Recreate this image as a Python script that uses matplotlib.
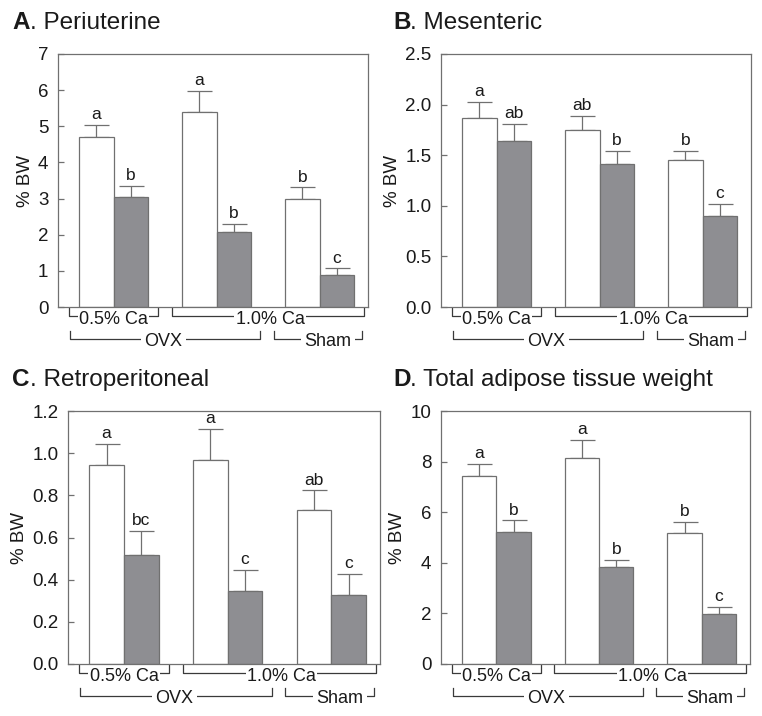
import matplotlib
matplotlib.use("Agg")
import matplotlib.pyplot as plt
import numpy as np
from matplotlib.transforms import blended_transform_factory

plt.rcParams['font.family'] = ['Liberation Sans', 'DejaVu Sans']

# ---- data ----
groups = ["0.5% Ca OVX", "1.0% Ca OVX", "1.0% Ca Sham"]
panel_titles = ["Periuterine", "Mesenteric", "Retroperitoneal", "Total adipose tissue weight"]
panel_letters = ["A", "B", "C", "D"]

# white bars / gray bars (means) and SEM (upper error)
A_white = [4.70, 5.39, 2.98]
A_white_err = [0.33, 0.60, 0.33]
A_gray = [3.04, 2.07, 0.88]
A_gray_err = [0.31, 0.22, 0.19]
A_white_sig = ["a", "a", "b"]
A_gray_sig = ["b", "b", "c"]

B_white = [1.865, 1.75, 1.45]
B_white_err = [0.165, 0.14, 0.095]
B_gray = [1.64, 1.41, 0.90]
B_gray_err = [0.17, 0.13, 0.12]
B_white_sig = ["a", "ab", "b"]
B_gray_sig = ["ab", "b", "c"]

C_white = [0.943, 0.967, 0.730]
C_white_err = [0.100, 0.149, 0.093]
C_gray = [0.516, 0.344, 0.328]
C_gray_err = [0.116, 0.101, 0.101]
C_white_sig = ["a", "a", "ab"]
C_gray_sig = ["bc", "c", "c"]

D_white = [7.44, 8.15, 5.18]
D_white_err = [0.47, 0.70, 0.43]
D_gray = [5.22, 3.83, 1.97]
D_gray_err = [0.46, 0.27, 0.28]
D_white_sig = ["a", "a", "b"]
D_gray_sig = ["b", "b", "c"]

y_ticks = [
    [0, 1, 2, 3, 4, 5, 6, 7],
    [0.0, 0.5, 1.0, 1.5, 2.0, 2.5],
    [0.0, 0.2, 0.4, 0.6, 0.8, 1.0, 1.2],
    [0, 2, 4, 6, 8, 10],
]
y_tick_labels = [
    ["0", "1", "2", "3", "4", "5", "6", "7"],
    ["0.0", "0.5", "1.0", "1.5", "2.0", "2.5"],
    ["0.0", "0.2", "0.4", "0.6", "0.8", "1.0", "1.2"],
    ["0", "2", "4", "6", "8", "10"],
]

# bracket labels: (label, first group, last group)
row1_brackets = [("0.5% Ca", 0, 0), ("1.0% Ca", 1, 2)]
row2_brackets = [("OVX", 0, 1), ("Sham", 2, 2)]

panels = [
    (A_white, A_white_err, A_gray, A_gray_err, A_white_sig, A_gray_sig),
    (B_white, B_white_err, B_gray, B_gray_err, B_white_sig, B_gray_sig),
    (C_white, C_white_err, C_gray, C_gray_err, C_white_sig, C_gray_sig),
    (D_white, D_white_err, D_gray, D_gray_err, D_white_sig, D_gray_sig),
]

# ---- layout ----
W, H = 762, 716
fig = plt.figure(figsize=(W / 100, H / 100), dpi=100)

axes_px = [  # left, top, width, height in px
    (58, 54, 310, 253),
    (441, 54, 310, 253),
    (68, 411, 312, 253),
    (441, 411, 309, 253),
]
title_px = [(12, 29), (393, 29), (12, 386), (393, 386)]
ylabel_x = [-0.078, -0.128, -0.128, -0.113]

bar_w = 0.335
edge_col = "#707070"
gray_fill = "#8e8e92"
line_col = "#3a3a3a"
text_col = "#1a1a1a"

x = np.arange(len(groups))
renderer = fig.canvas.get_renderer()

for i, (wv, we, gv, ge, ws, gs) in enumerate(panels):
    l, t, w, h = axes_px[i]
    ax = fig.add_axes([l / W, 1 - (t + h) / H, w / W, h / H])
    xw = x - bar_w / 2
    xg = x + bar_w / 2
    ax.bar(xw, wv, width=bar_w, color="white", edgecolor=edge_col, linewidth=0.9, zorder=2)
    ax.bar(xg, gv, width=bar_w, color=gray_fill, edgecolor=edge_col, linewidth=0.9, zorder=2)
    ax.errorbar(xw, wv, yerr=[np.zeros(3), we], fmt="none", ecolor=edge_col,
                elinewidth=0.9, capsize=9, capthick=0.9, zorder=1)
    ax.errorbar(xg, gv, yerr=[np.zeros(3), ge], fmt="none", ecolor=edge_col,
                elinewidth=0.9, capsize=9, capthick=0.9, zorder=1)
    for xs, vals, errs, sigs in ((xw, wv, we, ws), (xg, gv, ge, gs)):
        for xx, v, e, s in zip(xs, vals, errs, sigs):
            ax.annotate(s, (xx, v + e), xytext=(0, 2), textcoords="offset points",
                        ha="center", va="bottom", fontsize=12.5, color=text_col)

    ax.set_xlim(-0.54, 2.47)
    ax.set_ylim(y_ticks[i][0], y_ticks[i][-1])
    ax.set_yticks(y_ticks[i])
    ax.set_yticklabels(y_tick_labels[i])
    ax.set_xticks([])
    ax.tick_params(axis="y", direction="in", length=4, width=0.9, color=edge_col,
                   pad=7, labelsize=13.5, labelcolor=text_col)
    for sp in ax.spines.values():
        sp.set_color(edge_col)
        sp.set_linewidth(0.9)
    ax.set_ylabel("% BW", fontsize=13.5, color=text_col)
    ax.yaxis.set_label_coords(ylabel_x[i], 0.5)

    trans = blended_transform_factory(ax.transData, ax.transAxes)
    # row 1 brackets
    for lab, g0, g1 in row1_brackets:
        x0 = g0 - 0.435
        x1 = g1 + 0.435
        y_line, y_top, y_txt = -0.036, -0.004, -0.050
        ax.plot([x0, x0, x1, x1], [y_top, y_line, y_line, y_top], transform=trans,
                color=line_col, lw=0.9, clip_on=False)
        xc = (x0 + x1) / 2 if g0 == g1 else 1.52
        ax.text(xc, y_txt, lab, transform=trans, ha="center", va="center",
                fontsize=13, color=text_col,
                bbox=dict(facecolor="white", edgecolor="none", pad=1.0))
    # row 2 brackets
    for lab, g0, g1 in row2_brackets:
        x0 = g0 - 0.425 if g0 == 0 else g0 - 0.445
        x1 = g1 + 0.425 if g1 == 1 else g1 + 0.415
        y_line, y_top, y_txt = -0.128, -0.094, -0.138
        ax.plot([x0, x0, x1, x1], [y_top, y_line, y_line, y_top], transform=trans,
                color=line_col, lw=0.9, clip_on=False)
        xc = 0.485 if lab == "OVX" else 2.08
        ax.text(xc, y_txt, lab, transform=trans, ha="center", va="center",
                fontsize=13, color=text_col,
                bbox=dict(facecolor="white", edgecolor="none", pad=2.5))

    tx, ty = title_px[i]
    t1 = fig.text(tx / W, 1 - ty / H, panel_letters[i], fontsize=17.5, fontweight="bold",
                  color=text_col, ha="left", va="baseline")
    bb = t1.get_window_extent(renderer=renderer)
    fig.text(bb.x1 / W, 1 - ty / H, ". " + panel_titles[i], fontsize=17.5,
             color=text_col, ha="left", va="baseline")

fig.savefig("out.png", dpi=100, facecolor="white")
